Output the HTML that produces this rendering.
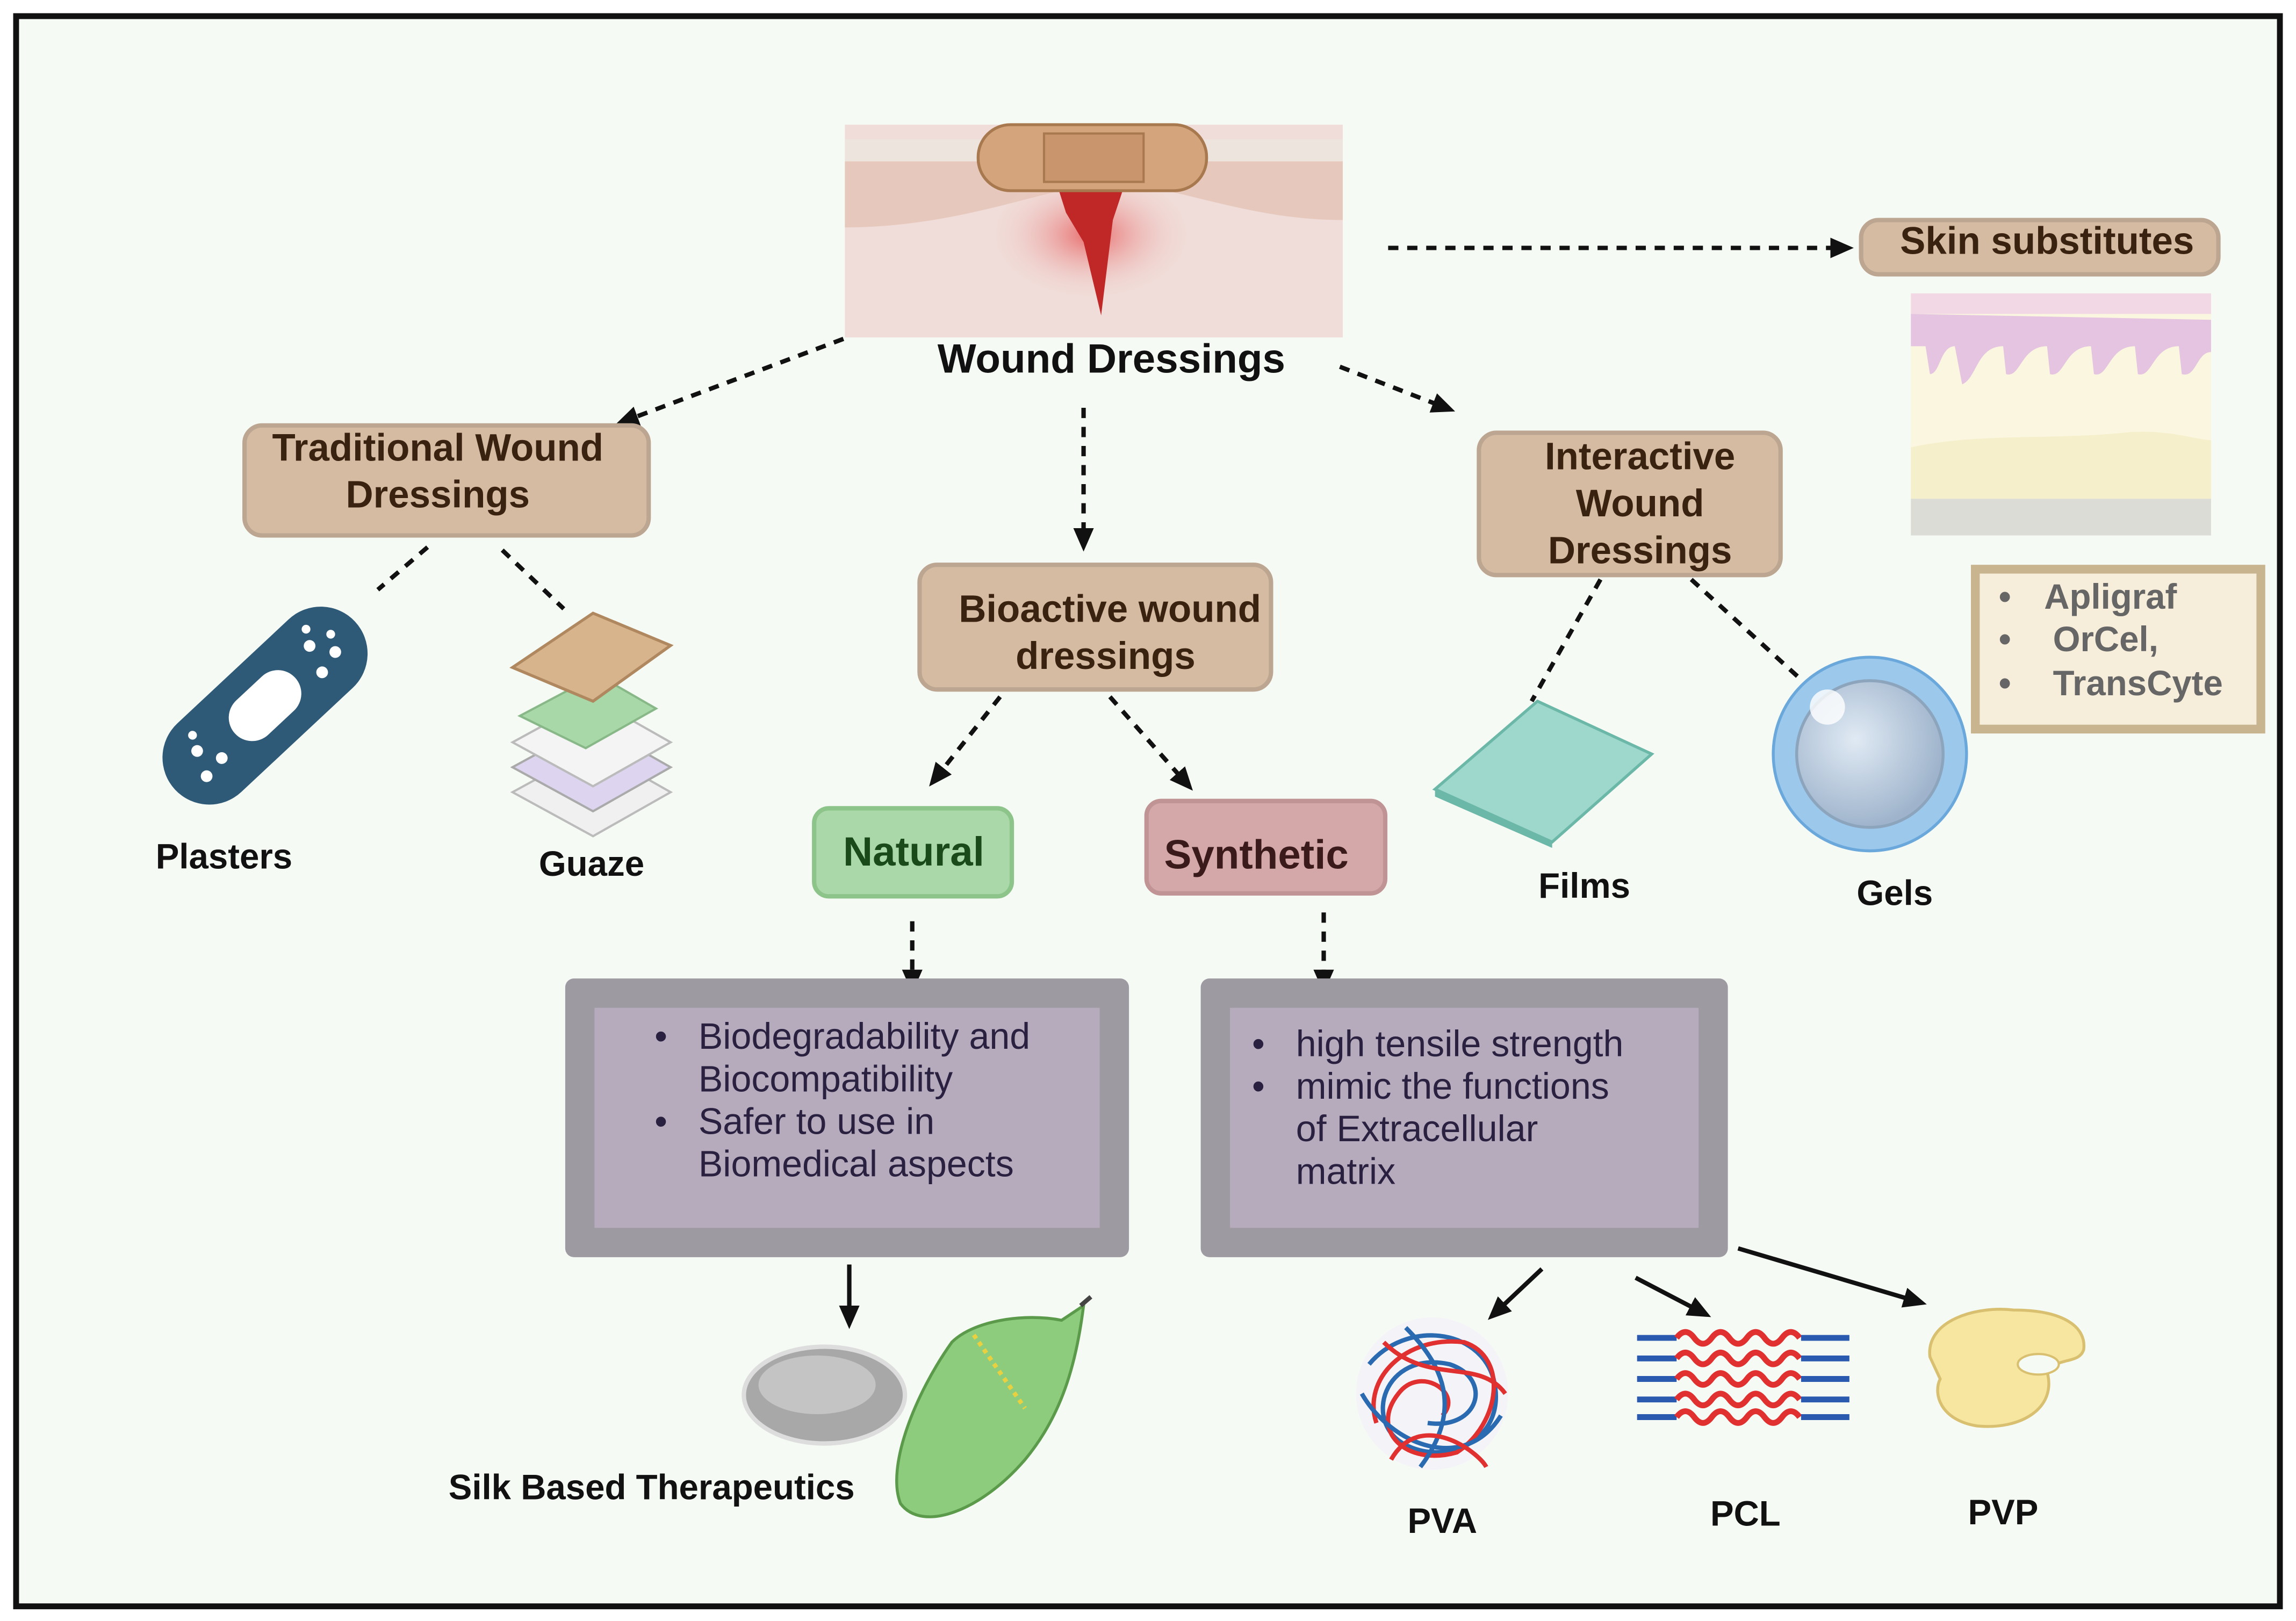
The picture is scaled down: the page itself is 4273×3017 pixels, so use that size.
<!DOCTYPE html>
<html><head><meta charset="utf-8"><style>
html,body{margin:0;padding:0;background:#fff;width:4273px;height:3017px;overflow:hidden}
svg{display:block}
text{font-family:"Liberation Sans",sans-serif}
</style></head><body>
<svg width="4273" height="3017" viewBox="0 0 1568 1105" preserveAspectRatio="none" xmlns="http://www.w3.org/2000/svg">
<defs>
<marker id="ah2" markerWidth="16" markerHeight="16" refX="12" refY="8" orient="auto" markerUnits="userSpaceOnUse" viewBox="0 0 16 16">
<path d="M0,1 L16,8 L0,15 Z" fill="#111"/></marker>
<radialGradient id="wg" cx="0.5" cy="0.5" r="0.5"><stop offset="0" stop-color="#e86a6a"/><stop offset="1" stop-color="#f0dcd8" stop-opacity="0"/></radialGradient>
<radialGradient id="gel" cx="0.4" cy="0.4" r="0.6"><stop offset="0" stop-color="#e0eaf4"/><stop offset="1" stop-color="#9fb4cc"/></radialGradient>
</defs>
<rect x="0" y="0" width="1568" height="1105" fill="#fff"/>
<rect x="11" y="11" width="1546" height="1084" fill="#f6faf4" stroke="#111" stroke-width="4"/>

<!-- wound image -->
<rect x="577" y="85" width="340" height="145" fill="#f0dcd8"/>
<path d="M577,95 L917,95 L917,110 L577,110Z" fill="#eee4de"/>
<path d="M577,110 L917,110 L917,150 C850,150 800,125 759,125 C720,125 660,155 577,155Z" fill="#e6c8bc"/>
<ellipse cx="745" cy="160" rx="70" ry="45" fill="url(#wg)"/>
<path d="M720,120 L770,120 L760,150 L752,215 L740,165 L728,145Z" fill="#c02828"/>
<rect x="668" y="85" width="156" height="45" rx="22" fill="#d4a47c" stroke="#a8784e" stroke-width="2"/>
<rect x="713" y="91" width="68" height="33" fill="#c8956c" stroke="#a8784e" stroke-width="1.5"/>
<text x="759" y="254" font-size="28" font-weight="bold" text-anchor="middle" fill="#111">Wound Dressings</text>

<!-- dashed arrows -->
<g stroke="#111" stroke-width="3" stroke-dasharray="7,6" fill="none">
<line x1="948" y1="169" x2="1262" y2="169" marker-end="url(#ah2)"/>
<line x1="576" y1="231" x2="424" y2="288" marker-end="url(#ah2)"/>
<line x1="740" y1="278" x2="740" y2="372" marker-end="url(#ah2)"/>
<line x1="915" y1="250" x2="990" y2="279" marker-end="url(#ah2)"/>
<line x1="292" y1="373" x2="258" y2="402"/>
<line x1="343" y1="375" x2="385" y2="415"/>
<line x1="683" y1="475" x2="637" y2="533" marker-end="url(#ah2)"/>
<line x1="758" y1="475" x2="812" y2="536" marker-end="url(#ah2)"/>
<line x1="623" y1="628" x2="623" y2="673" marker-end="url(#ah2)"/>
<line x1="904" y1="622" x2="904" y2="673" marker-end="url(#ah2)"/>
<line x1="1093" y1="395" x2="1046" y2="478"/>
<line x1="1155" y1="395" x2="1233" y2="466"/>
</g>
<g stroke="#111" stroke-width="3" fill="none">
<line x1="580" y1="862" x2="580" y2="902" marker-end="url(#ah2)"/>
<line x1="1053" y1="865" x2="1019" y2="897" marker-end="url(#ah2)"/>
<line x1="1117" y1="871" x2="1165" y2="896" marker-end="url(#ah2)"/>
<line x1="1187" y1="851" x2="1312" y2="888" marker-end="url(#ah2)"/>
</g>

<!-- brown boxes -->
<g fill="#d5bba2" stroke="#bca691" stroke-width="3">
<rect x="1271" y="150" width="244" height="37" rx="12"/>
<rect x="167" y="290" width="276" height="75" rx="12"/>
<rect x="628" y="385" width="240" height="85" rx="12"/>
<rect x="1010" y="295" width="206" height="97" rx="12"/>
</g>
<g font-size="26" font-weight="bold" fill="#3a2210" text-anchor="middle">
<text x="1398" y="173">Skin substitutes</text>
<text x="299" y="314">Traditional Wound</text>
<text x="299" y="346">Dressings</text>
<text x="758" y="424">Bioactive wound</text>
<text x="755" y="456">dressings</text>
<text x="1120" y="320">Interactive</text>
<text x="1120" y="352">Wound</text>
<text x="1120" y="384">Dressings</text>
</g>
<rect x="556" y="551" width="135" height="60" rx="10" fill="#aad8a8" stroke="#8cc48a" stroke-width="3"/>
<text x="624" y="590" font-size="28" font-weight="bold" text-anchor="middle" fill="#1a4a1a">Natural</text>
<rect x="783" y="546" width="163" height="63" rx="10" fill="#d4a8a8" stroke="#c09494" stroke-width="3"/>
<text x="858" y="592" font-size="28" font-weight="bold" text-anchor="middle" fill="#3a1a1a">Synthetic</text>

<!-- skin substitute image -->
<rect x="1305" y="200" width="205" height="165" fill="#fbf6e0"/>
<rect x="1305" y="200" width="205" height="14" fill="#f2d8e4"/>
<path d="M1305,214 L1510,218 L1510,240 C1500,240 1500,258 1490,255 L1488,236 C1470,236 1470,258 1460,255 L1458,236 C1440,236 1440,258 1430,255 L1428,236 C1410,236 1410,258 1400,255 L1398,236 C1380,236 1380,258 1370,255 L1368,236 C1350,236 1350,258 1340,262 L1335,236 C1325,236 1325,255 1318,255 L1315,236 L1305,236Z" fill="#e4c4e0"/>
<path d="M1305,305 C1350,295 1400,300 1450,295 C1480,292 1500,300 1510,300 L1510,340 L1305,340Z" fill="#f6efcc"/>
<rect x="1305" y="340" width="205" height="25" fill="#dcdcd6"/>
<rect x="1349" y="388" width="195" height="109" fill="#f6eedb" stroke="#c8b48f" stroke-width="6"/>
<g font-size="24" font-weight="bold" fill="#666">
<text x="1365" y="415">•</text><text x="1396" y="415">Apligraf</text>
<text x="1365" y="444">•</text><text x="1402" y="444">OrCel,</text>
<text x="1365" y="474">•</text><text x="1402" y="474">TransCyte</text>
</g>

<!-- plaster -->
<g transform="translate(181,481) rotate(-43)">
<rect x="-84" y="-32" width="168" height="64" rx="32" fill="#2e5a78"/>
<rect x="-28" y="-16" width="56" height="32" rx="16" fill="#fff"/>
<g fill="#fff"><circle cx="-55" cy="-9" r="4"/><circle cx="-46" cy="6" r="4"/><circle cx="-62" cy="8" r="4"/><circle cx="-50" cy="-19" r="3"/><circle cx="50" cy="-9" r="4"/><circle cx="60" cy="6" r="4"/><circle cx="44" cy="10" r="4"/><circle cx="56" cy="-19" r="3"/><circle cx="66" cy="-5" r="3"/></g>
</g>
<!-- gauze -->
<g stroke-width="1.5">
<path d="M350,540 L405,510 L458,540 L405,570Z" fill="#f0f0f0" stroke="#bbb"/>
<path d="M350,523 L405,493 L458,523 L405,553Z" fill="#ddd4f0" stroke="#aaa"/>
<path d="M350,506 L405,476 L458,506 L405,536Z" fill="#f4f4f4" stroke="#bbb"/>
<path d="M355,488 L408,460 L448,483 L400,510Z" fill="#a8d8a8" stroke="#88b888"/>
<path d="M350,455 L405,418 L458,440 L405,478Z" fill="#d8b48c" stroke="#b08860" stroke-width="2"/>
</g>
<!-- film -->
<path d="M980,538 L1050,478 L1128,514 L1060,574Z" fill="#9ed8cc" stroke="#6cb8a8" stroke-width="2"/>
<path d="M980,538 L1060,574 L1060,578 L980,543Z" fill="#6cb8a8"/>
<!-- gel -->
<circle cx="1277" cy="514" r="66" fill="#9cc8ec" stroke="#6aa8dc" stroke-width="2"/>
<circle cx="1277" cy="514" r="50" fill="url(#gel)" stroke="#8ca4bc" stroke-width="2"/>
<circle cx="1248" cy="482" r="12" fill="#fff" opacity="0.8"/>

<g font-size="24" font-weight="bold" fill="#111" text-anchor="middle">
<text x="153" y="592">Plasters</text>
<text x="404" y="597">Guaze</text>
<text x="1082" y="612">Films</text>
<text x="1294" y="617">Gels</text>
<text x="445" y="1022">Silk Based Therapeutics</text>
<text x="985" y="1045">PVA</text>
<text x="1192" y="1040">PCL</text>
<text x="1368" y="1039">PVP</text>
</g>

<!-- gray boxes -->
<rect x="386" y="667" width="385" height="190" rx="6" fill="#9e9aa2"/>
<rect x="406" y="687" width="345" height="150" fill="#b5abbc"/>
<rect x="820" y="667" width="360" height="190" rx="6" fill="#9e9aa2"/>
<rect x="840" y="687" width="320" height="150" fill="#b5abbc"/>
<g font-size="25" fill="#2a2040">
<text x="447" y="715">•</text><text x="477" y="715">Biodegradability and</text>
<text x="477" y="744">Biocompatibility</text>
<text x="447" y="773">•</text><text x="477" y="773">Safer to use in</text>
<text x="477" y="802">Biomedical aspects</text>
<text x="855" y="720">•</text><text x="885" y="720">high tensile strength</text>
<text x="855" y="749">•</text><text x="885" y="749">mimic the functions</text>
<text x="885" y="778">of Extracellular</text>
<text x="885" y="807">matrix</text>
</g>

<!-- cocoon & chrysalis -->
<ellipse cx="563" cy="951" rx="55" ry="33" fill="#a8a8a8" stroke="#ddd" stroke-width="3"/>
<ellipse cx="558" cy="944" rx="40" ry="20" fill="#c4c4c4"/>
<path d="M740,890 L725,900 C700,895 665,900 650,915 C625,950 605,1000 615,1025 C630,1045 670,1030 700,995 C725,965 735,930 740,890Z" fill="#8ccc7c" stroke="#5a9a4a" stroke-width="2"/>
<path d="M665,910 L700,960" stroke="#e8d040" stroke-width="3" stroke-dasharray="3,3"/>
<path d="M738,890 L745,884" stroke="#444" stroke-width="3"/>

<!-- PVA -->
<circle cx="978" cy="950" r="52" fill="#f4f4f8"/>
<g fill="none" stroke-width="3">
<path d="M935,930 C960,900 1010,905 1020,940 C1030,980 990,1000 960,985 C930,970 945,920 990,930 C1020,940 1010,975 975,970" stroke="#2a6ab0"/>
<path d="M940,970 C930,940 960,910 1000,915 C1030,925 1025,970 995,990 C960,1000 935,975 955,950 C970,930 1000,950 985,965" stroke="#e03030"/>
<path d="M930,950 C950,985 1000,1005 1025,965 M960,905 C985,930 1000,960 970,1000" stroke="#2a6ab0"/>
<path d="M945,915 C975,945 1010,925 1028,950 M950,995 C970,960 1010,990 1015,1000" stroke="#e03030"/>
</g>
<!-- PCL -->
<g fill="none" stroke-width="4">
<path d="M1118,912 L1145,912" stroke="#2a5ab0"/><path d="M1145,912 q6,-8 12,0 t12,0 t12,0 t12,0 t12,0 t12,0 t12,0" stroke="#e03030"/><path d="M1230,912 L1263,912" stroke="#2a5ab0"/>
<path d="M1118,926 L1145,926" stroke="#2a5ab0"/><path d="M1145,926 q6,-8 12,0 t12,0 t12,0 t12,0 t12,0 t12,0 t12,0" stroke="#e03030"/><path d="M1230,926 L1263,926" stroke="#2a5ab0"/>
<path d="M1118,940 L1145,940" stroke="#2a5ab0"/><path d="M1145,940 q6,-8 12,0 t12,0 t12,0 t12,0 t12,0 t12,0 t12,0" stroke="#e03030"/><path d="M1230,940 L1263,940" stroke="#2a5ab0"/>
<path d="M1118,954 L1145,954" stroke="#2a5ab0"/><path d="M1145,954 q6,-8 12,0 t12,0 t12,0 t12,0 t12,0 t12,0 t12,0" stroke="#e03030"/><path d="M1230,954 L1263,954" stroke="#2a5ab0"/>
<path d="M1118,966 L1145,966" stroke="#2a5ab0"/><path d="M1145,966 q6,-8 12,0 t12,0 t12,0 t12,0 t12,0 t12,0 t12,0" stroke="#e03030"/><path d="M1230,966 L1263,966" stroke="#2a5ab0"/>
</g>
<!-- PVP -->
<path d="M1318,925 C1315,900 1350,890 1375,893 C1410,893 1425,905 1423,920 C1420,930 1405,925 1398,935 C1405,960 1380,975 1350,972 C1325,968 1320,950 1325,940 Z" fill="#f6e6a0" stroke="#d8c070" stroke-width="2"/>
<ellipse cx="1392" cy="930" rx="14" ry="7" fill="#f6faf4" stroke="#d8c070" stroke-width="1.5"/>
</svg>
</body></html>
